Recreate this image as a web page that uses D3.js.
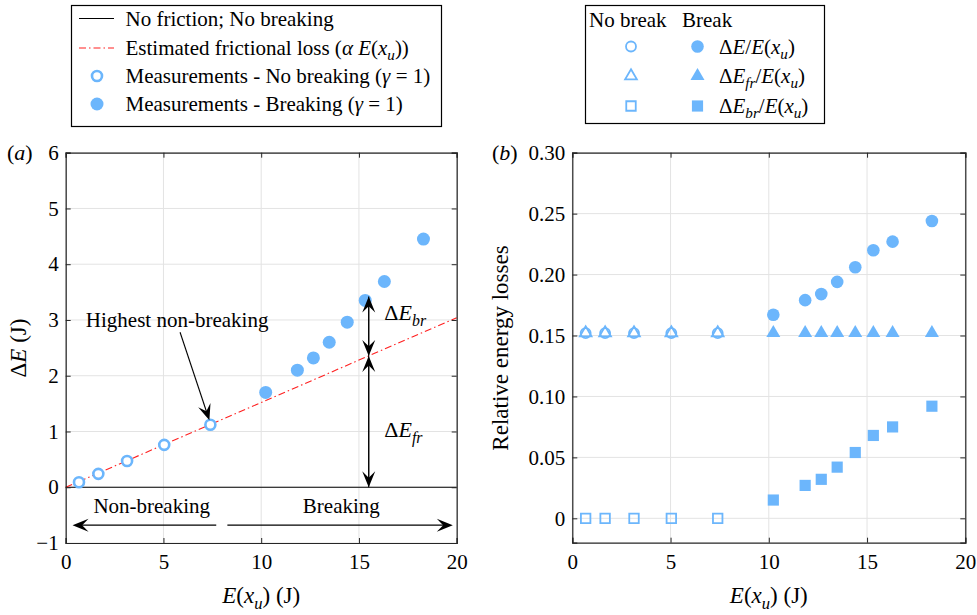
<!DOCTYPE html>
<html>
<head>
<meta charset="utf-8">
<script src="https://cdn.jsdelivr.net/npm/d3@7"></script>
<style>
  html, body { margin: 0; padding: 0; background: #fff; }
  svg { display: block; }
</style>
</head>
<body>
<svg id="chart" width="977" height="615" font-family="Liberation Serif"></svg>
<script>
// ---- data ----
const energyNoBreak = [0.68, 1.67, 3.14, 5.04, 7.40];
const lossNoBreak   = [0.09, 0.24, 0.47, 0.76, 1.12];
const energyBreak   = [10.23, 11.85, 12.67, 13.48, 14.40, 15.32, 16.30, 18.30];
const lossBreak     = [1.70, 2.10, 2.32, 2.60, 2.96, 3.35, 3.69, 4.45];

const alphaFriction = 0.152;            // frictional loss coefficient

const relTotalNoBreak = [0.152, 0.152, 0.152, 0.152, 0.152];
const relFrNoBreak    = [0.152, 0.152, 0.152, 0.152, 0.152];
const relBrNoBreak    = [0, 0, 0, 0, 0];
const relTotalBreak   = [0.167, 0.179, 0.184, 0.194, 0.206, 0.220, 0.227, 0.244];
const relFrBreak      = [0.152, 0.152, 0.152, 0.152, 0.152, 0.152, 0.152, 0.152];
const relBrBreak      = [0.015, 0.027, 0.032, 0.042, 0.054, 0.068, 0.075, 0.092];

const xTicks  = [0, 5, 10, 15, 20];
const yTicksA = [-1, 0, 1, 2, 3, 4, 5, 6];
const yTicksB = [0, 0.05, 0.10, 0.15, 0.20, 0.25, 0.30];

const blue = "#6cb6fc";
const FONT = "Liberation Serif";
const svg = d3.select("#chart");

// ---- helpers ----
function richText(sel, parts) {
  // parts: [text, style] where style: "i" italic, "sub" italic subscript, "" upright
  parts.forEach(([t, s]) => {
    const ts = sel.append("tspan").text(t);
    if (s === "i") ts.attr("font-style", "italic");
    if (s === "sub") ts.attr("font-style", "italic").attr("baseline-shift", "-35%").attr("font-size", "0.72em");
  });
  return sel;
}

function arrowHead(g, x, y, angle, len = 16, wid = 13) {
  // notched arrowhead with its tip at (x, y), pointing along angle (radians)
  const p = `M0,0 L${-len},${-wid/2} L${-len*0.6},0 L${-len},${wid/2} Z`;
  g.append("path").attr("d", p)
    .attr("transform", `translate(${x},${y}) rotate(${angle * 180 / Math.PI})`)
    .attr("fill", "#000");
}

function arrow(g, x1, y1, x2, y2, width = 1.1) {
  const a = Math.atan2(y2 - y1, x2 - x1);
  g.append("line").attr("x1", x1).attr("y1", y1)
    .attr("x2", x2 - Math.cos(a) * 8).attr("y2", y2 - Math.sin(a) * 8)
    .attr("stroke", "#000").attr("stroke-width", width);
  arrowHead(g, x2, y2, a);
}

function grid(g, x, y, xt, yt) {
  const [x0, x1] = x.range(), [y0, y1] = y.range();
  g.append("g").selectAll("line").data(xt).join("line")
    .attr("x1", d => x(d)).attr("x2", d => x(d)).attr("y1", y0).attr("y2", y1)
    .attr("stroke", "#e3e3e3").attr("stroke-width", 1);
  g.append("g").selectAll("line").data(yt).join("line")
    .attr("x1", x0).attr("x2", x1).attr("y1", d => y(d)).attr("y2", d => y(d))
    .attr("stroke", "#e3e3e3").attr("stroke-width", 1);
}

function axes(g, x, y, fmt, xt, yt) {
  const [x0, x1] = x.range(), [y0, y1] = y.range();
  const tl = 5;
  const ax = g.append("g").attr("class", "axes");
  ax.append("g").attr("transform", `translate(0,${y0})`)
    .call(d3.axisBottom(x).tickValues(xt).tickSize(-tl).tickPadding(11).tickFormat(d3.format("d")));
  ax.append("g").attr("transform", `translate(0,${y1})`)
    .call(d3.axisTop(x).tickValues(xt).tickSize(-tl).tickFormat(""));
  ax.append("g").attr("transform", `translate(${x0},0)`)
    .call(d3.axisLeft(y).tickValues(yt).tickSize(-tl).tickPadding(7).tickFormat(fmt));
  ax.append("g").attr("transform", `translate(${x1},0)`)
    .call(d3.axisRight(y).tickValues(yt).tickSize(-tl).tickFormat(""));
  ax.selectAll("g").attr("font-family", FONT).attr("font-size", 21);
  ax.selectAll(".domain").attr("stroke", "#262626").attr("stroke-width", 1.2);
  ax.selectAll(".tick line").attr("stroke", "#262626").attr("stroke-width", 1);
  ax.selectAll(".tick text").attr("fill", "#000");
}

// ================= panel (a) =================
const xa = d3.scaleLinear().domain([0, 20]).range([65.7, 456.7]);
const ya = d3.scaleLinear().domain([-1, 6]).range([543, 152.7]);
const ga = svg.append("g");
grid(ga, xa, ya, xTicks, yTicksA);

// no-friction reference line
ga.append("line").attr("x1", xa(0)).attr("x2", xa(20)).attr("y1", ya(0)).attr("y2", ya(0))
  .attr("stroke", "#000").attr("stroke-width", 1.2);
// estimated frictional loss
ga.append("line").attr("x1", xa(0)).attr("y1", ya(0)).attr("x2", xa(20)).attr("y2", ya(20 * alphaFriction))
  .attr("stroke", "#ff2020").attr("stroke-width", 1.1).attr("stroke-dasharray", "7,3,1.5,3");

// measurements
ga.append("g").selectAll("circle").data(d3.zip(energyNoBreak, lossNoBreak)).join("circle")
  .attr("cx", d => xa(d[0])).attr("cy", d => ya(d[1])).attr("r", 5)
  .attr("fill", "#fff").attr("stroke", blue).attr("stroke-width", 2.6);
ga.append("g").selectAll("circle").data(d3.zip(energyBreak, lossBreak)).join("circle")
  .attr("cx", d => xa(d[0])).attr("cy", d => ya(d[1])).attr("r", 6.5)
  .attr("fill", blue);

// annotations
const ann = ga.append("g");
const xArrow = 15.5, yFr = xArrow * alphaFriction, yBr = 3.42;
arrow(ann, xa(xArrow), ya(yFr), xa(xArrow), ya(0));
arrow(ann, xa(xArrow), ya(0), xa(xArrow), ya(yFr));
arrow(ann, xa(xArrow), ya(yBr), xa(xArrow), ya(yFr));
arrow(ann, xa(xArrow), ya(yFr), xa(xArrow), ya(yBr));
arrow(ann, xa(5.85), ya(2.78), xa(7.35), ya(1.2));
arrow(ann, xa(7.7), ya(-0.68), xa(0.35), ya(-0.68));
arrow(ann, xa(8.27), ya(-0.68), xa(19.8), ya(-0.68));

richText(ann.append("text").attr("x", xa(16.3)).attr("y", 320).attr("font-size", 22),
  [["Δ", ""], ["E", "i"], ["br", "sub"]]);
richText(ann.append("text").attr("x", xa(16.3)).attr("y", 437).attr("font-size", 22),
  [["Δ", ""], ["E", "i"], ["fr", "sub"]]);
ann.append("text").attr("x", xa(5.7)).attr("y", 327).attr("text-anchor", "middle").attr("font-size", 21)
  .text("Highest non-breaking");
ann.append("text").attr("x", xa(4.4)).attr("y", 513).attr("text-anchor", "middle").attr("font-size", 21)
  .text("Non-breaking");
ann.append("text").attr("x", xa(14.1)).attr("y", 513).attr("text-anchor", "middle").attr("font-size", 21)
  .text("Breaking");

axes(ga, xa, ya, d => d < 0 ? "\u2212" + Math.abs(d) : String(d), xTicks, yTicksA);

// titles
ga.append("text").attr("x", 7).attr("y", 160).attr("font-size", 22).call(s => richText(s, [["(", ""], ["a", "i"], [")", ""]]));
richText(ga.append("text").attr("transform", "translate(26,348) rotate(-90)").attr("text-anchor", "middle").attr("font-size", 23),
  [["Δ", ""], ["E", "i"], [" (J)", ""]]);
richText(ga.append("text").attr("x", (xa(0) + xa(20)) / 2).attr("y", 603).attr("text-anchor", "middle").attr("font-size", 23),
  [["E", "i"], ["(", ""], ["x", "i"], ["u", "sub"], [") (J)", ""]]);

// ================= panel (b) =================
const xb = d3.scaleLinear().domain([0, 20]).range([572.3, 965.3]);
const yb = d3.scaleLinear().domain([-0.02, 0.30]).range([542.7, 152.7]);
const gb = svg.append("g");
grid(gb, xb, yb, xTicks, yTicksB);

const tri = d3.symbol().type(d3.symbolTriangle);
const sq = d3.symbol().type(d3.symbolSquare);

// no-break (open) markers
gb.append("g").selectAll("circle").data(d3.zip(energyNoBreak, relTotalNoBreak)).join("circle")
  .attr("cx", d => xb(d[0])).attr("cy", d => yb(d[1])).attr("r", 5)
  .attr("fill", "none").attr("stroke", blue).attr("stroke-width", 1.8);
gb.append("g").selectAll("path").data(d3.zip(energyNoBreak, relFrNoBreak)).join("path")
  .attr("d", tri.size(60)).attr("transform", d => `translate(${xb(d[0])},${yb(d[1])})`)
  .attr("fill", "none").attr("stroke", blue).attr("stroke-width", 1.8);
gb.append("g").selectAll("path").data(d3.zip(energyNoBreak, relBrNoBreak)).join("path")
  .attr("d", sq.size(90)).attr("transform", d => `translate(${xb(d[0])},${yb(d[1])})`)
  .attr("fill", "none").attr("stroke", blue).attr("stroke-width", 1.8);

// break (filled) markers
gb.append("g").selectAll("circle").data(d3.zip(energyBreak, relTotalBreak)).join("circle")
  .attr("cx", d => xb(d[0])).attr("cy", d => yb(d[1])).attr("r", 6.3).attr("fill", blue);
gb.append("g").selectAll("path").data(d3.zip(energyBreak, relFrBreak)).join("path")
  .attr("d", tri.size(85)).attr("transform", d => `translate(${xb(d[0])},${yb(d[1])})`).attr("fill", blue);
gb.append("g").selectAll("path").data(d3.zip(energyBreak, relBrBreak)).join("path")
  .attr("d", sq.size(125)).attr("transform", d => `translate(${xb(d[0])},${yb(d[1])})`).attr("fill", blue);

axes(gb, xb, yb, d => d === 0 ? "0" : d3.format(".2f")(d), xTicks, yTicksB);

gb.append("text").attr("x", 492).attr("y", 160).attr("font-size", 22).call(s => richText(s, [["(", ""], ["b", "i"], [")", ""]]));
gb.append("text").attr("transform", "translate(508,348) rotate(-90)").attr("text-anchor", "middle").attr("font-size", 23)
  .text("Relative energy losses");
richText(gb.append("text").attr("x", (xb(0) + xb(20)) / 2).attr("y", 603).attr("text-anchor", "middle").attr("font-size", 23),
  [["E", "i"], ["(", ""], ["x", "i"], ["u", "sub"], [") (J)", ""]]);

// ================= legends =================
const lg1 = svg.append("g");
lg1.append("rect").attr("x", 71.5).attr("y", 5.5).attr("width", 370).attr("height", 121)
  .attr("fill", "#fff").attr("stroke", "#000").attr("stroke-width", 1.2);
const rowsY = [18.5, 48, 76, 104];
lg1.append("line").attr("x1", 79).attr("x2", 114).attr("y1", rowsY[0]).attr("y2", rowsY[0]).attr("stroke", "#000").attr("stroke-width", 1.1);
lg1.append("line").attr("x1", 79).attr("x2", 114).attr("y1", rowsY[1]).attr("y2", rowsY[1])
  .attr("stroke", "#ff2020").attr("stroke-width", 1.1).attr("stroke-dasharray", "7,3,1.5,3");
lg1.append("circle").attr("cx", 97).attr("cy", rowsY[2]).attr("r", 5).attr("fill", "#fff").attr("stroke", blue).attr("stroke-width", 2.6);
lg1.append("circle").attr("cx", 97).attr("cy", rowsY[3]).attr("r", 6.5).attr("fill", blue);
const lgText = [
  [["No friction; No breaking", ""]],
  [["Estimated frictional loss (", ""], ["α", "i"], [" ", ""], ["E", "i"], ["(", ""], ["x", "i"], ["u", "sub"], ["))", ""]],
  [["Measurements - No breaking (", ""], ["γ", "i"], [" = 1)", ""]],
  [["Measurements - Breaking (", ""], ["γ", "i"], [" = 1)", ""]]
];
lgText.forEach((p, i) => richText(lg1.append("text").attr("x", 125.5).attr("y", rowsY[i] + 7).attr("font-size", 21), p));

const lg2 = svg.append("g");
lg2.append("rect").attr("x", 585.5).attr("y", 5.5).attr("width", 239).attr("height", 118)
  .attr("fill", "#fff").attr("stroke", "#000").attr("stroke-width", 1.2);
lg2.append("text").attr("x", 589).attr("y", 27).attr("font-size", 21).text("No break");
lg2.append("text").attr("x", 682).attr("y", 27).attr("font-size", 21).text("Break");
const rows2 = [46.5, 76, 106];
lg2.append("circle").attr("cx", 631).attr("cy", rows2[0]).attr("r", 5).attr("fill", "none").attr("stroke", blue).attr("stroke-width", 1.8);
lg2.append("path").attr("d", tri.size(60)).attr("transform", `translate(631,${rows2[1]})`).attr("fill", "none").attr("stroke", blue).attr("stroke-width", 1.8);
lg2.append("path").attr("d", sq.size(90)).attr("transform", `translate(631,${rows2[2]})`).attr("fill", "none").attr("stroke", blue).attr("stroke-width", 1.8);
lg2.append("circle").attr("cx", 697.5).attr("cy", rows2[0]).attr("r", 6.3).attr("fill", blue);
lg2.append("path").attr("d", tri.size(85)).attr("transform", `translate(697.5,${rows2[1]})`).attr("fill", blue);
lg2.append("path").attr("d", sq.size(125)).attr("transform", `translate(697.5,${rows2[2]})`).attr("fill", blue);
const lg2Text = [
  [["Δ", ""], ["E", "i"], ["/", ""], ["E", "i"], ["(", ""], ["x", "i"], ["u", "sub"], [")", ""]],
  [["Δ", ""], ["E", "i"], ["fr", "sub"], ["/", ""], ["E", "i"], ["(", ""], ["x", "i"], ["u", "sub"], [")", ""]],
  [["Δ", ""], ["E", "i"], ["br", "sub"], ["/", ""], ["E", "i"], ["(", ""], ["x", "i"], ["u", "sub"], [")", ""]]
];
lg2Text.forEach((p, i) => richText(lg2.append("text").attr("x", 719).attr("y", rows2[i] + 7).attr("font-size", 21), p));

// serif face for every label
svg.selectAll("text").attr("font-family", FONT);
</script>
</body>
</html>
